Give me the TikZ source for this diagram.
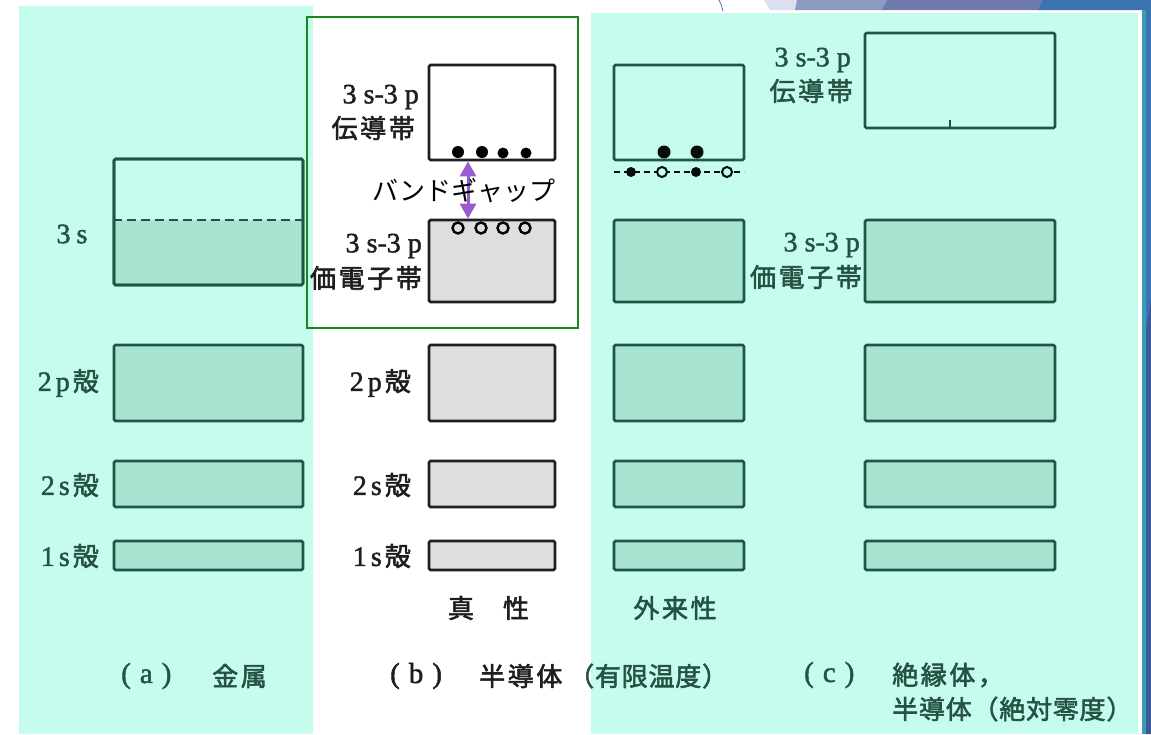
\documentclass[tikz,border=0pt]{standalone}
\usepackage{fontspec}
\setmainfont{Liberation Serif}
\newfontfamily\jp{Noto Sans CJK JP}
\newfontfamily\jpb{Noto Sans CJK JP}[FakeBold=2.2,LetterSpace=10]
\newfontfamily\jpc{Noto Sans CJK JP}[FakeBold=2.2,LetterSpace=3]
\newfontfamily\lat{Liberation Serif}[FakeBold=1.6]
\usetikzlibrary{arrows.meta}
\newcommand\myfs[1]{\fontsize{#1}{#1}\selectfont}
\newcommand\ssp{{\lat\myfs{28pt}3\hspace{7pt}s-3\hspace{7pt}p}}
\newcommand\shell[2]{{\lat\myfs{28pt}#1\hspace{4pt}#2}\hspace{3pt}{\jpb 殻}}
\newcommand\capl[1]{{\lat\myfs{29pt}(\hspace{9pt}#1\hspace{9pt})}}
\definecolor{bgcyan}{RGB}{198,252,238}
\definecolor{tealfill}{RGB}{166,227,208}
\definecolor{tealline}{RGB}{28,86,68}
\definecolor{tealtext}{RGB}{38,82,68}
\definecolor{grayfill}{RGB}{222,222,222}
\definecolor{darkline}{RGB}{30,30,30}
\definecolor{graytext}{RGB}{30,30,30}
\definecolor{gapviolet}{RGB}{152,92,208}
\definecolor{framegreen}{RGB}{22,136,28}
\definecolor{declav}{RGB}{220,223,240}
\definecolor{decgray}{RGB}{138,155,194}
\definecolor{decslate}{RGB}{112,121,174}
\definecolor{decblue}{RGB}{60,116,178}
\definecolor{decteal}{RGB}{58,156,188}
\definecolor{decnavy}{RGB}{59,89,149}
\definecolor{decline}{RGB}{90,106,176}
\begin{document}
\begin{tikzpicture}[x=1pt,y=-1pt,
  bandC/.style={draw=tealline, line width=2.8pt, rounded corners=1.5pt, inner sep=0pt, fill=tealfill},
  bandCe/.style={bandC, fill=bgcyan},
  bandW/.style={draw=darkline, line width=2.8pt, rounded corners=1.5pt, inner sep=0pt, fill=grayfill},
  bandWe/.style={bandW, fill=white},
  lblC/.style={inner sep=0pt, text=tealtext, font=\myfs{26pt}},
  lblW/.style={inner sep=0pt, text=graytext, font=\myfs{26pt}},
  elec/.style={circle, fill=black, inner sep=0pt, minimum size=12pt},
  hole/.style={circle, draw=black, line width=2.4pt, fill=grayfill, inner sep=0pt, minimum size=11pt},
  elecC/.style={circle, fill=black!85!tealline, inner sep=0pt, minimum size=10pt},
  holeC/.style={circle, draw=black!85!tealline, line width=2pt, fill=bgcyan, inner sep=0pt, minimum size=10pt},
  gaparrow/.style={draw=gapviolet, line width=3pt, {Triangle[width=16pt,length=15pt]}-{Triangle[width=16pt,length=15pt]}}
]
\useasboundingbox (0,0) rectangle (1151,734);
\fill[white] (0,0) rectangle (1151,734);
% slide decoration
\fill[declav] (764,0) -- (800,0) -- (797,10) -- (770,10) -- cycle;
\fill[decgray] (797,0) -- (890,0) -- (884,10) -- (795,10) -- cycle;
\fill[decslate] (887,0) -- (1045,0) -- (1040,10) -- (882,10) -- cycle;
\fill[decblue] (1043,0) -- (1151,0) -- (1151,10) -- (1038,10) -- cycle;
\draw[decline, line width=0.8pt] (719,0) .. controls (721,4) .. (723,11);
\fill[decteal] (1142,10) rectangle (1146,734);
\fill[decblue] (1146,0) rectangle (1151,734);
\fill[decnavy] (1146,330) -- (1151,300) -- (1151,734) -- (1146,734) -- cycle;
% panels
\fill[bgcyan] (19,6) rectangle (313,734);
\fill[bgcyan] (591,13) rectangle (1138,734);
\node[draw=framegreen, line width=2pt, inner sep=0pt, minimum width=271pt, minimum height=311pt] (frame) at (442.5,172.5) {};

% (a) metal
\node[bandCe, minimum width=189pt, minimum height=126pt] (a3s) at (208.5,222) {};
\fill[tealfill] (116,220) rectangle (301,283);
\node[draw=tealline, line width=2.8pt, rounded corners=1.5pt, inner sep=0pt, minimum width=189pt, minimum height=126pt] (a3sb) at (208.5,222) {};
\coordinate (a3sd) at (208.5,220);
\draw[tealline, line width=2.4pt, dash pattern=on 9pt off 5pt] (a3sd -| a3s.west) -- (a3sd -| a3s.east);
\node[bandC, minimum width=189pt, minimum height=76pt] (a2p) at (208.5,383) {};
\node[bandC, minimum width=189pt, minimum height=46pt] (a2s) at (208.5,484) {};
\node[bandC, minimum width=189pt, minimum height=29pt] (a1s) at (208.5,555.5) {};

% (b) intrinsic
\node[bandWe, minimum width=126pt, minimum height=95pt] (bcb) at (492,112.5) {};
\node[bandW, minimum width=126pt, minimum height=82pt] (bvb) at (492,261) {};
\node[bandW, minimum width=126pt, minimum height=76pt] (b2p) at (492,383) {};
\node[bandW, minimum width=126pt, minimum height=46pt] (b2s) at (492,484) {};
\node[bandW, minimum width=126pt, minimum height=29pt] (b1s) at (492,555.5) {};
\node[elec] (be1) at (458,152) {};
\node[elec] (be2) at (482,152) {};
\node[elec, minimum size=11pt] (be3) at (503,153) {};
\node[elec, minimum size=11pt] (be4) at (526,153) {};
\node[hole] (bh1) at (458,228) {};
\node[hole] (bh2) at (481,228) {};
\node[hole] (bh3) at (503,228) {};
\node[hole] (bh4) at (525,228) {};
\coordinate (gx) at (468,0);
\draw[gaparrow] (gx |- bcb.south) -- (gx |- bvb.north);

% extrinsic
\node[bandCe, minimum width=130pt, minimum height=95pt] (ecb) at (679,112.5) {};
\node[bandC, minimum width=130pt, minimum height=82pt] (evb) at (679,261) {};
\node[bandC, minimum width=130pt, minimum height=76pt] (e2p) at (679,383) {};
\node[bandC, minimum width=130pt, minimum height=46pt] (e2s) at (679,484) {};
\node[bandC, minimum width=130pt, minimum height=29pt] (e1s) at (679,555.5) {};
\node[elecC, minimum size=13pt] (ee1) at (664,152) {};
\node[elecC, minimum size=13pt] (ee2) at (697,152) {};
\coordinate (edl) at (614,172);
\coordinate (edr) at (744,172);
\draw[black!85!tealline, line width=1.2pt, dash pattern=on 6pt off 4pt] (edl) -- (edr);
\node[elecC] (ed1) at (631,172) {};
\node[holeC] (ed2) at (662,172) {};
\node[elecC] (ed3) at (696,172) {};
\node[holeC] (ed4) at (727,172) {};

% (c) insulator
\node[bandCe, minimum width=190pt, minimum height=95pt] (ccb) at (960,80.5) {};
\node[bandC, minimum width=190pt, minimum height=82pt] (cvb) at (960,261) {};
\node[bandC, minimum width=190pt, minimum height=76pt] (c2p) at (960,383) {};
\node[bandC, minimum width=190pt, minimum height=46pt] (c2s) at (960,484) {};
\node[bandC, minimum width=190pt, minimum height=29pt] (c1s) at (960,555.5) {};
\coordinate (ctk) at (950,0);
\draw[tealline, line width=1.4pt] (ctk |- ccb.south) -- ++(0,-9);

% labels (a)
\node[lblC, anchor=center] (la3s) at (72,234) {{\lat\myfs{28pt}3\hspace{6pt}s}};
\node[lblC, anchor=east] (la2p) at (99,383) {\shell{2}{p}};
\node[lblC, anchor=east] (la2s) at (99,485) {\shell{2}{s}};
\node[lblC, anchor=east] (la1s) at (99,556) {\shell{1}{s}};
% labels (b)
\node[lblW, anchor=east] (lbc1) at (419,97) {\ssp};
\node[lblW, anchor=east] (lbc2) at (415,128) {\jpb 伝導帯};
\node[lblW, anchor=east] (lbv1) at (422,246) {\ssp};
\node[lblW, anchor=east] (lbv2) at (422,278) {\jpb 価電子帯};
\node[lblW, anchor=east] (lb2p) at (411,383) {\shell{2}{p}};
\node[lblW, anchor=east] (lb2s) at (411,485) {\shell{2}{s}};
\node[lblW, anchor=east] (lb1s) at (411,556) {\shell{1}{s}};
\node[lblW, anchor=center] (lbsh) at (461,608) {\jpb 真};
\node[lblW, anchor=center] (lbse) at (516,608) {\jpb 性};
\node[inner sep=0pt, text=black, font=\myfs{26pt}\jp] (gap) at (464,191) {バンドギャップ};
% labels extrinsic
\node[lblC, anchor=center] (lext) at (675,608) {\jpb 外来性};
% labels (c)
\node[lblC, anchor=east] (lcc1) at (851,60) {\ssp};
\node[lblC, anchor=east] (lcc2) at (853,91) {\jpb 伝導帯};
\node[lblC, anchor=east] (lcv1) at (860,245) {\ssp};
\node[lblC, anchor=east] (lcv2) at (862,277) {\jpb 価電子帯};
% captions
\node[lblC, anchor=west] (capa1) at (121,676) {\capl{a}};
\node[lblC, anchor=west] (capa2) at (212,676) {\jpb 金属};
\node[lblW, anchor=west] (capb1) at (390,676) {\capl{b}};
\node[lblW, anchor=west] (capb2) at (479,676) {\jpb 半導体};
\node[lblC, anchor=west] (capb3) at (568,676) {\jpc （有限温度）};
\node[lblC, anchor=west] (capc1) at (804,675) {\capl{c}};
\node[lblC, anchor=west] (capc2) at (892,675) {\jpb 絶縁体，};
\node[lblC, anchor=west] (capc3) at (892,709) {\jpc 半導体（絶対零度）};
\end{tikzpicture}
\end{document}
